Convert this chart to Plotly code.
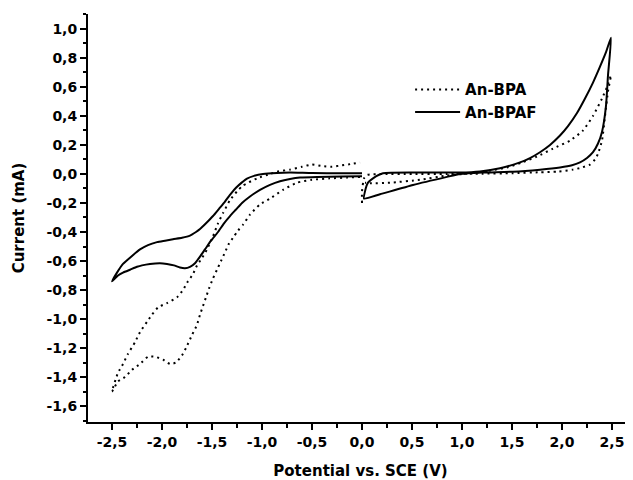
import plotly.graph_objects as go

# ---- data ----
x_tick_vals = [-2.5, -2.0, -1.5, -1.0, -0.5, 0.0, 0.5, 1.0, 1.5, 2.0, 2.5]
x_tick_text = ["-2,5", "-2,0", "-1,5", "-1,0", "-0,5", "0,0", "0,5", "1,0", "1,5", "2,0", "2,5"]
y_tick_vals = [1.0, 0.8, 0.6, 0.4, 0.2, 0.0, -0.2, -0.4, -0.6, -0.8, -1.0, -1.2, -1.4, -1.6]
y_tick_text = ["1,0", "0,8", "0,6", "0,4", "0,2", "0,0", "-0,2", "-0,4", "-0,6", "-0,8",
               "-1,0", "-1,2", "-1,4", "-1,6"]

# An-BPA, cathodic region (0 -> -2.5 -> 0)
bpa_neg_v = [-0.02, -0.15, -0.32, -0.5, -0.65, -0.79, -0.92, -1.02, -1.12, -1.19, -1.24, -1.28,
             -1.33, -1.37, -1.41, -1.45, -1.49, -1.53, -1.56, -1.59, -1.62, -1.65, -1.70, -1.76,
             -1.80, -1.86, -1.92, -1.99, -2.07, -2.14, -2.22, -2.30, -2.37, -2.44, -2.50,
             -2.44, -2.39, -2.34, -2.27, -2.22, -2.15, -2.10, -2.04, -1.95, -1.85, -1.79, -1.74,
             -1.69, -1.65, -1.60, -1.55, -1.49, -1.44, -1.39, -1.32, -1.25, -1.19, -1.05, -0.92,
             -0.85, -0.72, -0.60, -0.50, -0.40, -0.30, -0.20, -0.10, -0.02]
bpa_neg_i = [-0.02, -0.025, -0.03, -0.04, -0.06, -0.11, -0.17, -0.21, -0.28, -0.35, -0.39, -0.43,
             -0.48, -0.54, -0.60, -0.66, -0.72, -0.79, -0.85, -0.91, -0.97, -1.04, -1.11, -1.20,
             -1.25, -1.30, -1.31, -1.28, -1.26, -1.26, -1.31, -1.35, -1.40, -1.43, -1.50,
             -1.37, -1.31, -1.24, -1.16, -1.09, -1.02, -0.97, -0.92, -0.89, -0.85, -0.80, -0.74,
             -0.69, -0.63, -0.58, -0.52, -0.43, -0.34, -0.27, -0.18, -0.12, -0.08, -0.03, 0.0,
             0.016, 0.03, 0.05, 0.065, 0.055, 0.05, 0.06, 0.07, 0.08]

# An-BPA, anodic region (0 -> 2.5 -> 0)
bpa_pos_v = [0.0, 0.0, 0.02, 0.05, 0.21, 0.5, 0.85, 1.2, 1.5, 1.78, 1.95, 2.11, 2.20, 2.28,
             2.33, 2.36, 2.40, 2.43, 2.46, 2.49,
             2.45, 2.40, 2.31, 2.21, 2.08, 1.91, 1.75, 1.60, 1.45, 1.25, 1.10, 0.85, 0.58,
             0.28, 0.08, 0.03]
bpa_pos_i = [-0.20, -0.12, -0.03, -0.007, 0.0, 0.0, 0.0, 0.002, 0.005, 0.012, 0.016, 0.03, 0.045,
             0.065, 0.10, 0.14, 0.23, 0.40, 0.57, 0.68,
             0.60, 0.52, 0.40, 0.30, 0.23, 0.175, 0.12, 0.08, 0.045, 0.02, 0.005, -0.01, -0.04,
             -0.06, -0.064, -0.06]

# An-BPAF, cathodic region (0 -> -2.5 -> 0)
bpaf_neg_v = [0.0, -0.2, -0.45, -0.62, -0.72, -0.82, -0.92, -1.02, -1.12, -1.20, -1.26, -1.32,
              -1.38, -1.44, -1.51, -1.57, -1.62, -1.67, -1.72, -1.77, -1.82, -1.88, -1.95, -2.02,
              -2.12, -2.20, -2.25, -2.32, -2.39, -2.44, -2.50,
              -2.45, -2.39, -2.30, -2.22, -2.14, -2.05, -1.97, -1.89, -1.80, -1.72, -1.66, -1.62,
              -1.56, -1.49, -1.43, -1.37, -1.31, -1.26, -1.20, -1.15, -1.08, -0.99, -0.85, -0.72,
              -0.50, -0.20, 0.0]
bpaf_neg_i = [-0.015, -0.018, -0.02, -0.025, -0.035, -0.05, -0.075, -0.11, -0.155, -0.20, -0.245,
              -0.29, -0.34, -0.40, -0.46, -0.52, -0.57, -0.615, -0.64, -0.65, -0.645, -0.63, -0.62,
              -0.615, -0.62, -0.63, -0.64, -0.66, -0.68, -0.70, -0.74,
              -0.68, -0.62, -0.565, -0.52, -0.49, -0.47, -0.46, -0.45, -0.44, -0.425, -0.40, -0.38,
              -0.34, -0.29, -0.24, -0.19, -0.135, -0.095, -0.058, -0.032, -0.013, 0.0, 0.007,
              0.01, 0.006, 0.005, 0.005]

# An-BPAF, anodic region (0 -> 2.5 -> 0)
bpaf_pos_v = [0.02, 0.18, 0.51, 0.85, 0.98, 1.20, 1.51, 1.78, 1.98, 2.10, 2.18, 2.25, 2.31, 2.36,
              2.40, 2.44, 2.46, 2.49,
              2.44, 2.38, 2.31, 2.23, 2.15, 2.06, 1.98, 1.88, 1.78, 1.68, 1.58, 1.38, 1.18, 0.98,
              0.60, 0.21, 0.11, 0.06, 0.03, 0.02]
bpaf_pos_i = [-0.17, -0.14, -0.076, -0.02, 0.0, 0.01, 0.016, 0.03, 0.045, 0.06, 0.08, 0.11, 0.15,
              0.21, 0.29, 0.47, 0.68, 0.94,
              0.84, 0.74, 0.63, 0.52, 0.42, 0.33, 0.265, 0.20, 0.15, 0.11, 0.08, 0.04, 0.018, 0.01,
              0.01, 0.005, -0.03, -0.06, -0.12, -0.17]

FONT = "DejaVu Sans"

fig = go.Figure()
dot_style = dict(color="black", width=2, dash="2px,4px", shape="spline", smoothing=0.5)
solid_style = dict(color="black", width=2, shape="spline", smoothing=0.5)

fig.add_trace(go.Scatter(x=bpa_neg_v, y=bpa_neg_i, mode="lines", line=dot_style,
                         name="An-BPA", legendgroup="bpa"))
fig.add_trace(go.Scatter(x=bpa_pos_v, y=bpa_pos_i, mode="lines", line=dot_style,
                         name="An-BPA", legendgroup="bpa", showlegend=False))
fig.add_trace(go.Scatter(x=bpaf_neg_v, y=bpaf_neg_i, mode="lines", line=solid_style,
                         name="An-BPAF", legendgroup="bpaf"))
fig.add_trace(go.Scatter(x=bpaf_pos_v, y=bpaf_pos_i, mode="lines", line=solid_style,
                         name="An-BPAF", legendgroup="bpaf", showlegend=False))

x_range = [-2.74, 2.71]
y_range = [-1.71, 1.103]

axis_common = dict(showgrid=False, zeroline=False, showline=True, linecolor="black",
                   linewidth=2, tickcolor="black", tickwidth=2, automargin=False)

# the page body adds an 8px offset, so the figure is sized to end at the window edge
fig.update_layout(
    width=625, height=472,
    margin=dict(l=80, r=0, t=6, b=58),
    paper_bgcolor="white", plot_bgcolor="white",
    font=dict(family=FONT, color="black", size=14, weight="bold"),
    showlegend=True,
    legend=dict(x=0.591, y=0.855, xanchor="left", yanchor="top", bgcolor="rgba(0,0,0,0)",
                font=dict(family=FONT, size=15, weight="bold"), itemwidth=45,
                tracegroupgap=0),
    xaxis=dict(range=x_range, **axis_common, ticks="outside", ticklen=6,
               tickmode="array", tickvals=x_tick_vals, ticktext=x_tick_text,
               tickfont=dict(family=FONT, size=14, weight="bold"),
               minor=dict(tickmode="linear", tick0=0, dtick=0.25, ticks="outside",
                          ticklen=4, tickwidth=2, tickcolor="black"),
               title=dict(text="Potential vs. SCE (V)", standoff=18,
                          font=dict(family=FONT, size=15, weight="bold"))),
    yaxis=dict(range=y_range, **axis_common, ticks="outside", ticklen=6,
               tickmode="array", tickvals=y_tick_vals, ticktext=y_tick_text,
               tickfont=dict(family=FONT, size=14, weight="bold"),
               minor=dict(tickmode="linear", tick0=0, dtick=0.1, ticks="outside",
                          ticklen=3, tickwidth=2, tickcolor="black"),
               title=dict(text="Current (mA)", standoff=18,
                          font=dict(family=FONT, size=15, weight="bold"))),
    xaxis2=dict(range=x_range, overlaying="x", side="top", anchor="y", **axis_common,
                ticks="inside", ticklen=7, showticklabels=False,
                tickmode="array", tickvals=x_tick_vals,
                minor=dict(tickmode="linear", tick0=0, dtick=0.25, ticks="inside",
                           ticklen=6, tickwidth=2, tickcolor="black")),
    yaxis2=dict(range=y_range, overlaying="y", side="right", anchor="x", **axis_common,
                ticks="inside", ticklen=5, showticklabels=False,
                tickmode="array", tickvals=y_tick_vals,
                minor=dict(tickmode="linear", tick0=0, dtick=0.1, ticks="inside",
                           ticklen=2, tickwidth=2, tickcolor="black")),
)

fig.write_html("out.html")
